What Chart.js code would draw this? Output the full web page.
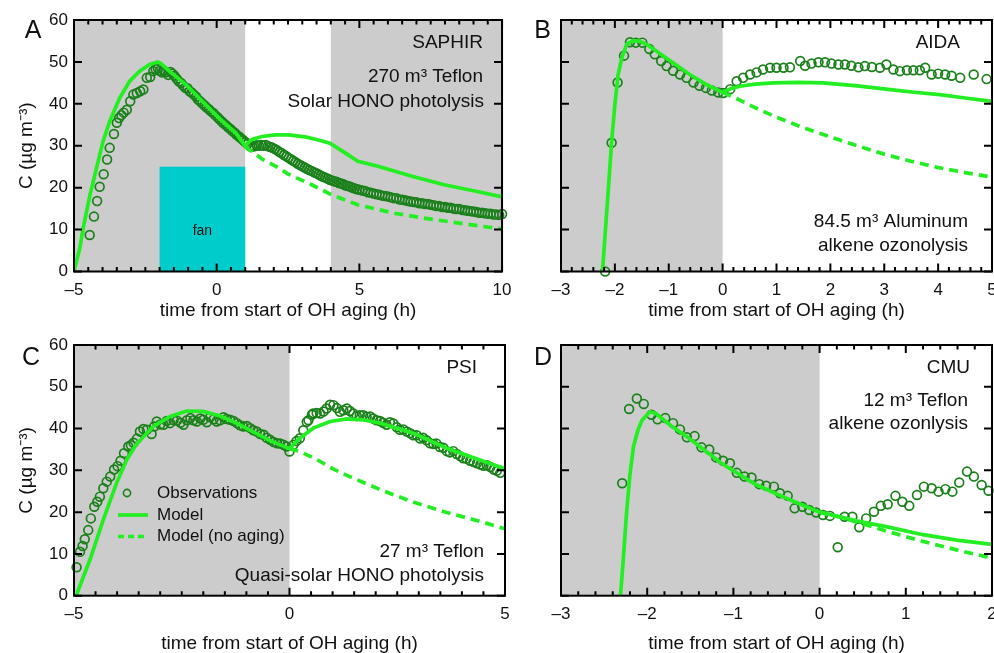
<!DOCTYPE html>
<html lang="en">
<head>
<meta charset="UTF-8">
<title>Chamber SOA aging comparison</title>
<script src="https://cdn.jsdelivr.net/npm/chart.js"></script>
<style>
  html, body { margin: 0; padding: 0; background: #fff; overflow: hidden; }
  body { width: 994px; height: 653px; position: relative; }
  canvas { position: absolute; }
  #cA { left: 0; top: 0; }
  #cB { left: 520px; top: 0; }
  #cC { left: 0; top: 326px; }
  #cD { left: 520px; top: 326px; }
</style>
</head>
<body>
<canvas id="cA" width="520" height="326"></canvas>
<canvas id="cB" width="494" height="326"></canvas>
<canvas id="cC" width="520" height="334"></canvas>
<canvas id="cD" width="494" height="334"></canvas>

<script>
// ---- data: [time (h), C (ug m-3)] ----
const saphirObs = [[-4.45,8.7],[-4.30,13.1],[-4.19,16.8],[-4.10,20.2],[-3.96,23.2],[-3.84,26.7],[-3.75,29.5],[-3.60,32.8],[-3.50,35.5],[-3.42,36.6],[-3.34,37.3],[-3.26,37.9],[-3.15,38.6],[-3.03,40.6],[-2.92,42.2],[-2.80,42.6],[-2.68,43.0],[-2.57,43.4],[-2.45,46.2],[-2.33,46.4],[-2.22,47.8],[-2.14,48.3],[-2.06,48.5],[-1.99,47.9],[-1.92,47.5],[-1.85,47.9],[-1.78,47.5],[-1.70,46.9],[-1.62,47.6],[-1.55,47.2],[-1.48,46.7],[-1.40,46.0],[-1.32,45.3],[-1.25,45.0],[-1.18,44.4],[-1.10,43.8],[-1.02,43.7],[-0.95,43.0],[-0.88,42.7],[-0.80,42.2],[-0.72,41.7],[-0.65,41.0],[-0.58,40.6],[-0.50,40.1],[-0.42,39.6],[-0.35,39.1],[-0.27,38.7],[-0.20,38.2],[-0.12,37.8],[-0.05,37.3],[0.03,36.8],[0.10,36.3],[0.18,35.8],[0.25,35.3],[0.33,34.9],[0.40,34.4],[0.48,34.0],[0.55,33.5],[0.63,33.1],[0.70,32.6],[0.78,32.2],[0.85,31.8],[0.93,31.3],[1.00,30.9],[1.08,30.4],[1.16,29.9],[1.24,29.8],[1.32,29.9],[1.40,30.1],[1.48,30.0],[1.56,30.2],[1.64,30.0],[1.72,30.2],[1.80,29.9],[1.88,29.7],[1.96,29.5],[2.04,29.2],[2.12,28.9],[2.20,28.5],[2.28,28.2],[2.36,27.8],[2.44,27.5],[2.52,27.1],[2.60,26.8],[2.68,26.4],[2.76,26.1],[2.84,25.7],[2.92,25.4],[3.00,25.1],[3.08,24.8],[3.16,24.5],[3.24,24.2],[3.32,24.0],[3.40,23.7],[3.48,23.5],[3.56,23.2],[3.64,22.9],[3.72,22.6],[3.80,22.4],[3.88,22.2],[3.96,21.9],[4.04,21.7],[4.12,21.5],[4.20,21.4],[4.28,21.1],[4.36,21.0],[4.44,20.8],[4.52,20.5],[4.60,20.4],[4.68,20.2],[4.76,20.0],[4.84,19.8],[4.92,19.6],[5.00,19.5],[5.10,19.3],[5.20,19.2],[5.30,18.9],[5.40,18.8],[5.50,18.6],[5.60,18.4],[5.70,18.3],[5.80,18.1],[5.90,18.0],[6.00,17.9],[6.10,17.7],[6.20,17.5],[6.30,17.5],[6.40,17.2],[6.50,17.1],[6.60,17.0],[6.70,16.8],[6.80,16.7],[6.90,16.6],[7.00,16.5],[7.10,16.3],[7.20,16.3],[7.30,16.1],[7.40,16.1],[7.50,15.9],[7.60,15.8],[7.70,15.6],[7.80,15.6],[7.90,15.4],[8.00,15.4],[8.10,15.2],[8.20,15.2],[8.30,15.0],[8.40,14.9],[8.50,14.9],[8.60,14.7],[8.70,14.6],[8.80,14.5],[8.90,14.4],[9.00,14.3],[9.10,14.2],[9.20,14.0],[9.30,14.0],[9.40,13.9],[9.50,13.8],[9.60,13.8],[9.70,13.6],[9.80,13.6],[9.90,13.5],[10.00,13.7]];
const saphirModel = [[-5,0],[-4.8,5.5],[-4.68,10.3],[-4.44,18.3],[-4.21,24.7],[-3.98,31.1],[-3.75,35.8],[-3.40,41.4],[-3.05,45.4],[-2.70,47.8],[-2.35,49.4],[-2.07,50.0],[-1.95,49.6],[-1.66,47.8],[-1.08,44.6],[-0.50,40.6],[0.08,36.6],[0.66,33.1],[1.0,29.9],[1.12,30.9],[1.24,31.5],[1.59,32.2],[2.06,32.6],[2.52,32.6],[3.1,32.1],[3.5,31.5],[3.97,30.6],[4.5,28.3],[4.95,26.3],[5.65,25.1],[6.81,22.8],[7.97,20.7],[9.13,19.1],[10,17.8]];
const saphirNoAging = [[1.0,29.9],[1.13,29.1],[1.6,26.8],[2.17,24.7],[2.52,23.2],[3.33,20.7],[4.03,18.3],[4.95,15.9],[6.23,13.9],[7.39,12.6],[8.55,11.5],[9.6,10.5],[10,10.2]];
const saphirDark = [[-5, 1], [4, 10]];
const saphirFan = [-2, 1, 25];

const aidaObs = [[-2.18,0],[-2.06,30.7],[-1.95,45.1],[-1.83,51.5],[-1.72,54.7],[-1.61,54.6],[-1.49,54.6],[-1.36,53.1],[-1.26,51.8],[-1.14,50.2],[-1.04,49.0],[-0.92,47.9],[-0.79,47.0],[-0.67,46.2],[-0.54,45.1],[-0.43,44.3],[-0.31,43.8],[-0.20,43.2],[-0.08,42.7],[0.01,42.6],[0.14,43.5],[0.26,45.4],[0.38,46.2],[0.51,47.0],[0.63,47.5],[0.75,48.2],[0.88,48.6],[1.00,48.6],[1.13,48.6],[1.25,48.7],[1.44,50.2],[1.53,49.1],[1.65,49.6],[1.78,49.9],[1.90,49.9],[2.02,49.6],[2.15,49.4],[2.27,49.4],[2.39,49.1],[2.52,48.7],[2.64,49.0],[2.77,48.8],[2.92,48.6],[3.04,49.4],[3.17,48.2],[3.29,47.8],[3.42,48.0],[3.54,48.0],[3.66,48.0],[3.76,48.6],[3.88,47.0],[4.00,47.2],[4.13,47.0],[4.25,46.7],[4.41,46.2],[4.66,47.0],[4.90,45.9]];
const aidaModel = [[-2.23,0],[-2.12,19.9],[-2.06,31],[-2.0,39.8],[-1.94,47],[-1.87,51],[-1.78,54.2],[-1.66,55.1],[-1.55,55],[-1.41,54.2],[-1.10,51.4],[-0.61,47],[-0.3,44.6],[0,42.7],[0.15,43.6],[0.32,44.2],[0.6,44.7],[0.94,45],[1.4,45.1],[1.87,45],[2.5,44.3],[3.11,43.4],[3.6,42.7],[4.03,42.2],[4.5,41.4],[5,40.6]];
const aidaNoAging = [[0,42.7],[0.3,41],[0.6,39.1],[1.0,36.8],[1.5,34.3],[2.0,32.1],[2.5,30],[3.0,28],[3.5,26.3],[4.0,24.8],[4.5,23.6],[5,22.5]];
const aidaDark = [[-3, 0]];

const psiObs = [[-4.94,6.8],[-4.86,10.5],[-4.80,11.9],[-4.75,13.5],[-4.67,15.7],[-4.61,18.5],[-4.53,21.3],[-4.46,22.5],[-4.40,23.7],[-4.32,25.7],[-4.24,27.3],[-4.16,28.5],[-4.07,30.2],[-3.99,31.0],[-3.92,32.3],[-3.84,34.1],[-3.74,35.7],[-3.68,36.0],[-3.62,36.6],[-3.54,37.6],[-3.47,39.3],[-3.39,39.9],[-3.31,39.7],[-3.20,38.7],[-3.14,40.5],[-3.08,41.7],[-3.00,41.0],[-2.92,40.9],[-2.85,41.8],[-2.77,41.3],[-2.69,42.0],[-2.61,41.9],[-2.53,41.4],[-2.46,40.9],[-2.38,42.0],[-2.30,42.5],[-2.23,42.0],[-2.15,41.7],[-2.07,42.4],[-2.00,42.1],[-1.92,41.5],[-1.84,42.7],[-1.76,42.2],[-1.69,41.7],[-1.61,42.0],[-1.53,42.7],[-1.46,42.3],[-1.38,42.1],[-1.30,41.8],[-1.22,41.3],[-1.15,40.8],[-1.07,40.5],[-0.99,40.6],[-0.91,40.1],[-0.84,39.6],[-0.76,39.3],[-0.68,38.7],[-0.60,38.5],[-0.53,37.8],[-0.45,37.3],[-0.37,36.8],[-0.29,36.5],[-0.22,36.4],[-0.14,36.1],[-0.07,35.7],[0.00,34.5],[0.09,36.1],[0.16,37.0],[0.24,37.7],[0.32,39.6],[0.40,41.6],[0.44,42.0],[0.52,43.3],[0.55,43.6],[0.63,43.7],[0.71,43.6],[0.79,44.1],[0.86,44.8],[0.94,45.7],[1.02,45.6],[1.10,44.9],[1.17,44.0],[1.25,44.4],[1.33,44.8],[1.40,44.2],[1.48,43.6],[1.56,43.0],[1.63,43.2],[1.71,43.2],[1.79,42.8],[1.87,42.9],[1.94,42.4],[2.02,42.0],[2.10,41.8],[2.17,41.4],[2.25,40.9],[2.33,41.5],[2.41,41.2],[2.49,40.3],[2.56,39.7],[2.64,39.8],[2.72,39.3],[2.80,38.9],[2.87,38.4],[2.95,38.4],[3.03,37.6],[3.10,37.8],[3.18,37.2],[3.26,36.5],[3.34,36.3],[3.41,36.4],[3.49,35.6],[3.57,35.4],[3.65,34.6],[3.72,34.3],[3.80,34.6],[3.88,33.9],[3.96,33.4],[4.03,32.9],[4.11,32.8],[4.19,32.3],[4.27,32.0],[4.35,31.7],[4.43,31.4],[4.50,31.1],[4.58,31.2],[4.66,30.8],[4.74,30.2],[4.81,29.9],[4.89,29.4]];
const psiModel = [[-4.95,0],[-4.63,8.6],[-4.32,18.2],[-4.01,27.0],[-3.78,32.5],[-3.55,36.3],[-3.16,40.5],[-2.77,42.9],[-2.39,44.2],[-2.0,44.1],[-1.61,43.0],[-1.23,41.3],[-0.84,39.2],[-0.45,37.1],[0,35.2],[0.24,37.7],[0.55,40.1],[0.94,41.7],[1.33,42.3],[1.71,42.1],[2.1,41.3],[2.87,38.9],[3.65,35.3],[4.42,32.5],[5,30.4]];
const psiNoAging = [[0,35.2],[0.24,34.5],[0.6,32.8],[1.0,30.4],[1.33,28.8],[2.1,25.4],[2.87,22.4],[3.65,19.9],[4.42,17.8],[5,16.0]];
const psiDark = [[-5, 0]];

const cmuObs = [[-2.29,26.9],[-2.21,44.7],[-2.12,47.2],[-2.04,45.9],[-1.95,43.3],[-1.88,42.2],[-1.79,42.5],[-1.70,41.3],[-1.62,39.8],[-1.54,37.9],[-1.45,38.2],[-1.37,35.5],[-1.28,35.0],[-1.20,33.1],[-1.12,32.3],[-1.04,31.7],[-0.96,29.4],[-0.87,28.5],[-0.79,28.3],[-0.70,26.7],[-0.62,26.3],[-0.53,26.1],[-0.46,24.5],[-0.37,23.9],[-0.29,20.9],[-0.20,21.3],[-0.12,20.5],[-0.04,19.9],[0.04,19.3],[0.12,19.1],[0.21,11.6],[0.29,18.9],[0.38,18.9],[0.46,16.4],[0.54,18.5],[0.63,20.1],[0.71,21.5],[0.79,21.9],[0.88,23.9],[0.96,22.5],[1.04,21.5],[1.13,24.1],[1.21,26.1],[1.30,25.7],[1.38,24.9],[1.46,25.5],[1.54,24.9],[1.62,27.1],[1.71,29.7],[1.79,28.5],[1.88,26.5],[1.96,25.1]];
const cmuModel = [[-2.31,0],[-2.28,8],[-2.24,19.7],[-2.20,29],[-2.16,35.6],[-2.11,39.5],[-2.06,42.0],[-1.97,44.0],[-1.90,43.6],[-1.72,40.6],[-1.51,37.6],[-1.14,31.7],[-0.74,26.6],[-0.36,23.1],[0,20.0],[0.43,17.9],[0.80,16.4],[1.2,14.6],[1.59,13.3],[2,12.3]];
const cmuNoAging = [[0,20.0],[0.25,18.7],[0.5,17.2],[0.8,15.3],[1.2,13.0],[1.6,10.9],[2,9.0]];
const cmuDark = [[-3, 0]];

const yTicks = [0, 10, 20, 30, 40, 50, 60];

// ---- style ----
const FONT = '"Liberation Sans", Arial, Helvetica, sans-serif';
const OBS_GREEN = '#1a801a';
const MODEL_GREEN = '#22ee22';
const INK = '#111';

Chart.defaults.font.family = FONT;
Chart.defaults.color = INK;

const pts = arr => arr.map(p => ({ x: p[0], y: p[1] }));
const dashLabel = v => (v < 0 ? '\u2013' + Math.abs(v) : String(v));

// gray periods, fan box, framed axes with inward ticks, labels and legend
const panelDecor = {
  id: 'panelDecor',
  beforeDatasetsDraw(chart, args, o) {
    const { ctx, chartArea: a, scales: { x, y } } = chart;
    ctx.save();
    ctx.fillStyle = '#cccccc';
    o.bands.forEach(b => {
      const x0 = x.getPixelForValue(b[0]), x1 = x.getPixelForValue(b[1]);
      ctx.fillRect(x0, a.top, x1 - x0, a.bottom - a.top);
    });
    if (o.fan) {
      const fx0 = x.getPixelForValue(o.fan[0]), fx1 = x.getPixelForValue(o.fan[1]);
      const fy = y.getPixelForValue(o.fan[2]), fb = y.getPixelForValue(0);
      ctx.fillStyle = '#00cccc';
      ctx.fillRect(fx0, fy, fx1 - fx0, fb - fy);
      ctx.fillStyle = INK;
      ctx.font = '14px ' + FONT;
      ctx.textAlign = 'center';
      ctx.textBaseline = 'middle';
      ctx.fillText('fan', (fx0 + fx1) / 2, y.getPixelForValue(9.7));
    }
    ctx.restore();
  },
  afterDraw(chart, args, o) {
    const { ctx, chartArea: a, scales: { x, y } } = chart;
    ctx.save();
    ctx.strokeStyle = '#000';
    ctx.lineWidth = 2;
    ctx.strokeRect(a.left, a.top, a.right - a.left, a.bottom - a.top);

    ctx.beginPath();
    const n = Math.round((x.max - x.min) / o.xMinor);
    for (let i = 0; i <= n; i++) {
      const v = x.min + i * o.xMinor;
      const px = x.getPixelForValue(v);
      const r = v / o.xMajor;
      const len = Math.abs(r - Math.round(r)) < 1e-6 ? 8 : 4.5;
      ctx.moveTo(px, a.bottom); ctx.lineTo(px, a.bottom - len);
      ctx.moveTo(px, a.top); ctx.lineTo(px, a.top + len);
    }
    yTicks.forEach(v => {
      const py = y.getPixelForValue(v);
      ctx.moveTo(a.left, py); ctx.lineTo(a.left + 8, py);
      ctx.moveTo(a.right, py); ctx.lineTo(a.right - 8, py);
    });
    ctx.stroke();

    ctx.fillStyle = INK;
    ctx.textBaseline = 'alphabetic';
    ctx.textAlign = 'center';
    ctx.font = '25px ' + FONT;
    ctx.fillText(o.letter[0], o.letter[1], o.letter[2]);

    ctx.textAlign = 'right';
    ctx.font = '19px ' + FONT;
    o.notes.forEach(t => ctx.fillText(t[0], t[1], t[2]));

    if (o.legend) {
      const L = o.legend;
      ctx.strokeStyle = OBS_GREEN;
      ctx.lineWidth = 1.6;
      ctx.beginPath();
      ctx.arc(L.x + 9, L.y[0], 3.6, 0, Math.PI * 2);
      ctx.stroke();
      ctx.strokeStyle = MODEL_GREEN;
      ctx.lineWidth = 3.7;
      ctx.beginPath();
      ctx.moveTo(L.x, L.y[1]); ctx.lineTo(L.x + 30, L.y[1]);
      ctx.stroke();
      ctx.setLineDash([6, 4]);
      ctx.beginPath();
      ctx.moveTo(L.x, L.y[2]); ctx.lineTo(L.x + 30, L.y[2]);
      ctx.stroke();
      ctx.setLineDash([]);
      ctx.textAlign = 'left';
      ctx.textBaseline = 'middle';
      ctx.font = '17px ' + FONT;
      ['Observations', 'Model', 'Model (no aging)'].forEach((s, i) => ctx.fillText(s, L.x + 39, L.y[i]));
    }
    ctx.restore();
  }
};

function makePanel(id, p) {
  return new Chart(document.getElementById(id), {
    type: 'scatter',
    data: {
      datasets: [
        { label: 'Observations', data: pts(p.obs), showLine: false, order: 3,
          pointStyle: 'circle', pointRadius: 4.4, pointBorderWidth: 1.7,
          pointBorderColor: OBS_GREEN, pointBackgroundColor: 'rgba(0,0,0,0)', clip: false },
        { label: 'Model', data: pts(p.model), showLine: true, order: 1,
          borderColor: MODEL_GREEN, borderWidth: 3.7, pointRadius: 0, tension: 0 },
        { label: 'Model (no aging)', data: pts(p.noAging), showLine: true, order: 2,
          borderColor: MODEL_GREEN, borderWidth: 3.7, borderDash: [9, 6], pointRadius: 0, tension: 0 }
      ]
    },
    options: {
      responsive: false,
      animation: false,
      devicePixelRatio: 1,
      events: [],
      layout: { padding: { left: 0, top: p.padTop, right: p.padRight, bottom: 0 } },
      plugins: {
        legend: { display: false },
        tooltip: { enabled: false },
        panelDecor: { bands: p.bands, fan: p.fan, xMinor: p.xMinor, xMajor: p.xStep,
                      letter: p.letter, notes: p.notes, legend: p.legend }
      },
      scales: {
        x: {
          type: 'linear', min: p.xMin, max: p.xMax,
          grid: { display: false, drawTicks: false }, border: { display: false },
          ticks: { stepSize: p.xStep, callback: dashLabel, font: { size: 17 }, color: INK,
                   padding: 8.5, maxRotation: 0, autoSkip: false },
          title: { display: true, text: 'time from start of OH aging (h)', font: { size: 19 },
                   color: INK, padding: { top: 0, bottom: p.titlePad } },
          afterFit: s => { s.height = p.xHeight; }
        },
        y: {
          type: 'linear', min: 0, max: 60,
          grid: { display: false, drawTicks: false }, border: { display: false },
          ticks: { display: p.yLabels, stepSize: 10, font: { size: 17 }, color: INK, padding: 6 },
          title: { display: p.yLabels, text: 'C (\u00b5g m\u207b\u00b3)', font: { size: 19 },
                   color: INK, padding: { top: 15, bottom: 0 } },
          afterFit: s => { s.width = p.yWidth; }
        }
      }
    },
    plugins: [panelDecor]
  });
}

makePanel('cA', {
  obs: saphirObs, model: saphirModel, noAging: saphirNoAging, bands: saphirDark, fan: saphirFan,
  xMin: -5, xMax: 10, xStep: 5, xMinor: 0.5, yLabels: true,
  padTop: 20, padRight: 15, yWidth: 74, xHeight: 54.5, titlePad: 3.5,
  letter: ['A', 33, 38],
  notes: [['SAPHIR', 483, 48], ['270 m\u00b3 Teflon', 483, 82], ['Solar HONO photolysis', 484, 107]]
});

makePanel('cB', {
  obs: aidaObs, model: aidaModel, noAging: aidaNoAging, bands: aidaDark,
  xMin: -3, xMax: 5, xStep: 1, xMinor: 0.2, yLabels: false,
  padTop: 20, padRight: 22, yWidth: 41, xHeight: 54.5, titlePad: 3.5,
  letter: ['B', 22.5, 38],
  notes: [['AIDA', 440, 48], ['84.5 m\u00b3 Aluminum', 448, 227], ['alkene ozonolysis', 448, 251]]
});

makePanel('cC', {
  obs: psiObs, model: psiModel, noAging: psiNoAging, bands: psiDark,
  xMin: -5, xMax: 5, xStep: 5, xMinor: 0.5, yLabels: true,
  padTop: 19, padRight: 15, yWidth: 74, xHeight: 64.3, titlePad: 5,
  letter: ['C', 31, 39],
  notes: [['PSI', 477, 47], ['27 m\u00b3 Teflon', 484, 231], ['Quasi-solar HONO photolysis', 484, 255]],
  legend: { x: 118, y: [167, 189, 210.5] }
});

makePanel('cD', {
  obs: cmuObs, model: cmuModel, noAging: cmuNoAging, bands: cmuDark,
  xMin: -3, xMax: 2, xStep: 1, xMinor: 0.2, yLabels: false,
  padTop: 19, padRight: 22, yWidth: 41, xHeight: 64.3, titlePad: 5,
  letter: ['D', 23, 39],
  notes: [['CMU', 450, 47], ['12 m\u00b3 Teflon', 448, 80], ['alkene ozonlysis', 448, 103]]
});
</script>
</body>
</html>
